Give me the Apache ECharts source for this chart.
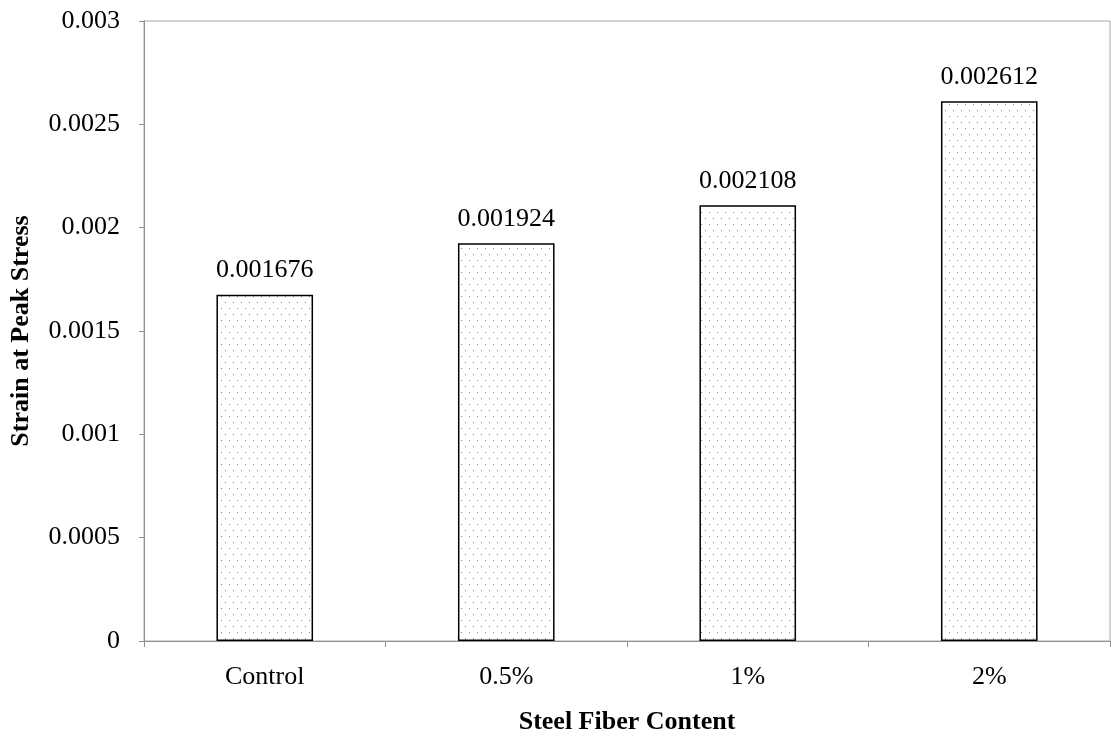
<!DOCTYPE html>
<html>
<head>
<meta charset="utf-8">
<script src="https://cdn.jsdelivr.net/npm/echarts@6/dist/echarts.min.js"></script>
<style>
  html, body { margin: 0; padding: 0; background: #fff; }
  #chart { width: 1111px; height: 740px; }
</style>
</head>
<body>
<div id="chart"></div>
<script>
// Peak-stress strain for each steel fiber dosage
const categories = ['Control', '0.5%', '1%', '2%'];
const strainValues = [0.001676, 0.001924, 0.002108, 0.002612];
const yTicks = { min: 0, max: 0.003, interval: 0.0005 };

// Dotted fill tile for the bars
function dotPattern() {
  const c = document.createElement('canvas');
  c.width = 8; c.height = 12;
  const ctx = c.getContext('2d');
  ctx.fillStyle = '#fff';
  ctx.fillRect(0, 0, 8, 12);
  ctx.fillStyle = '#808080';
  ctx.fillRect(1, 2, 1, 1);
  ctx.fillRect(5, 8, 1, 1);
  return c;
}

const serif = '"Liberation Serif", "DejaVu Serif", serif';
const chart = echarts.init(document.getElementById('chart'));
chart.setOption({
  animation: false,
  backgroundColor: '#fff',
  grid: {
    left: 143, right: 1, top: 21, bottom: 97,
    show: true, borderColor: '#a8a8a8', borderWidth: 1, backgroundColor: 'transparent'
  },
  xAxis: {
    type: 'category',
    data: categories,
    name: 'Steel Fiber Content',
    nameLocation: 'middle',
    nameGap: 68,
    nameTextStyle: { fontFamily: serif, fontSize: 26, fontWeight: 'bold', color: '#000' },
    axisLine: { lineStyle: { color: '#909090', width: 1 } },
    axisTick: { show: true, length: 6, lineStyle: { color: '#909090' } },
    axisLabel: { fontFamily: serif, fontSize: 26, color: '#000', margin: 23 }
  },
  yAxis: {
    type: 'value',
    min: yTicks.min, max: yTicks.max, interval: yTicks.interval,
    name: 'Strain at Peak Stress',
    nameLocation: 'middle',
    nameGap: 110,
    nameTextStyle: { fontFamily: serif, fontSize: 26, fontWeight: 'bold', color: '#000' },
    axisLine: { show: true, lineStyle: { color: '#909090', width: 1 } },
    axisTick: { show: true, length: 5, lineStyle: { color: '#909090' } },
    splitLine: { show: false },
    axisLabel: {
      fontFamily: serif, fontSize: 26, color: '#000', margin: 24,
      formatter: v => String(+v.toFixed(4))
    }
  },
  series: [{
    type: 'bar',
    data: strainValues,
    barWidth: '40%',
    itemStyle: {
      color: { image: dotPattern(), repeat: 'repeat' },
      borderColor: '#000',
      borderWidth: 1.5
    },
    label: {
      show: true,
      position: 'top',
      distance: 11,
      fontFamily: serif,
      fontSize: 26,
      color: '#000',
      formatter: p => p.value.toFixed(6)
    }
  }]
});
</script>
</body>
</html>
